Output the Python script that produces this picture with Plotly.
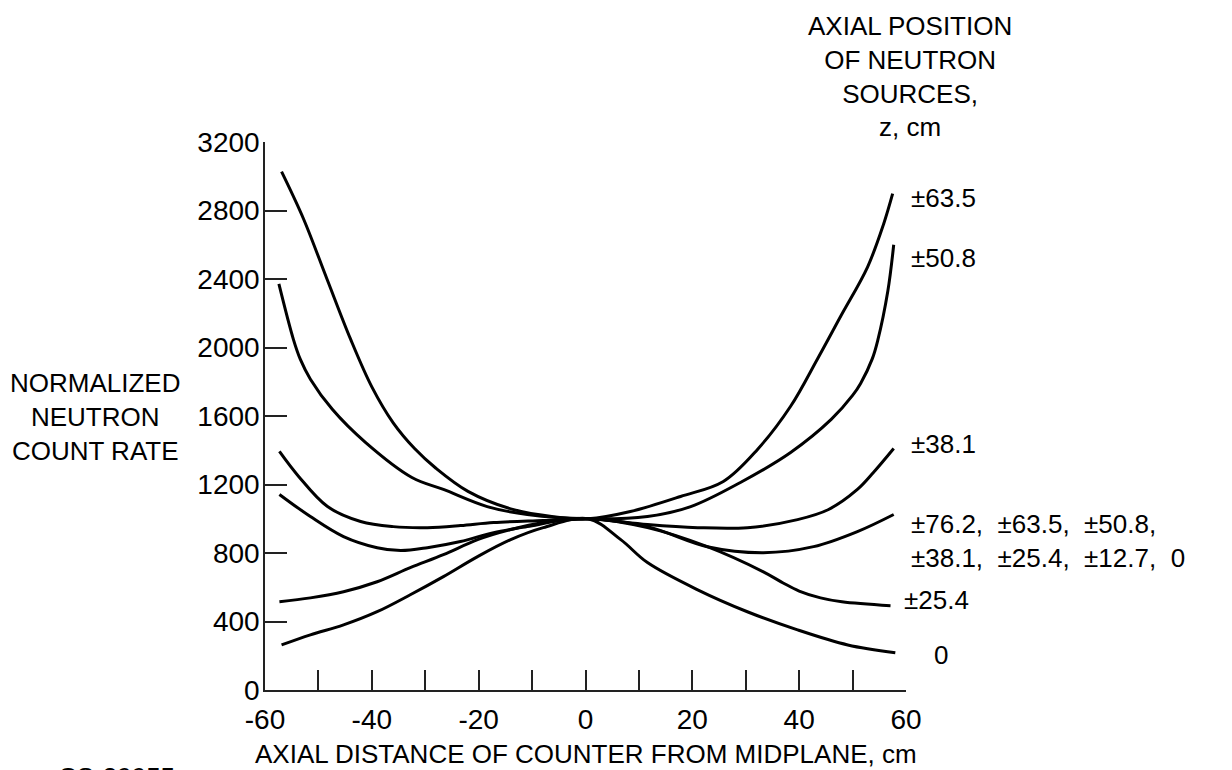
import plotly.graph_objects as go

FONT = "Liberation Sans, Arial, sans-serif"

# Curve data (axial distance cm, normalized count rate)
x_635 = [-56.9, -52.8, -48.4, -44.0, -40.0, -36.0, -32.0, -28.0, -22.0, -14.0, -6.0, 0.5,
         8.4, 17.8, 25.8, 32.2, 38.4, 43.4, 47.8, 52.8, 55.8, 57.5]
y_635 = [3027, 2752, 2400, 2050, 1770, 1560, 1410, 1295, 1160, 1058, 1012, 1000,
         1042, 1130, 1218, 1405, 1657, 1932, 2184, 2470, 2720, 2898]

x_508 = [-57.4, -54.7, -53.4, -51.5, -47.4, -41.2, -32.5, -26.6, -18.4, -10.9, 0.5,
         11.6, 19.7, 29.0, 38.4, 46.0, 50.0, 51.5, 53.7, 54.7, 56.6, 57.7]
y_508 = [2371, 2049, 1932, 1815, 1639, 1446, 1241, 1171, 1071, 1025, 1000,
         1013, 1071, 1212, 1387, 1580, 1720, 1790, 1935, 2040, 2330, 2600]

x_381 = [-57.3, -53.7, -48.3, -42.1, -36.0, -29.6, -23.4, -17.2, -7.9, 0.5,
         11.6, 21.0, 30.3, 39.7, 45.5, 50.9, 53.9, 57.7]
y_381 = [1393, 1247, 1071, 984, 954, 948, 960, 978, 990, 1000,
         966, 948, 948, 995, 1054, 1171, 1270, 1410]

x_all = [-57.3, -51.5, -45.3, -39.0, -34.6, -29.6, -23.4, -17.2, -10.9, -4.7, 0.5,
         11.6, 22.8, 33.3, 42.7, 50.9, 57.7]
y_all = [1142, 1013, 896, 831, 814, 831, 867, 919, 954, 989, 1000,
         954, 837, 802, 837, 925, 1025]

x_254 = [-57.3, -51.5, -45.3, -39.0, -32.8, -26.6, -20.2, -14.0, -7.9, 0.5,
         11.6, 22.8, 33.3, 37.0, 40.0, 44.0, 48.0, 57.1]
y_254 = [515, 538, 574, 632, 714, 790, 878, 937, 978, 1000,
         948, 837, 690, 625, 578, 538, 515, 492]

x_0 = [-56.9, -51.5, -45.3, -39.0, -32.8, -26.6, -20.2, -14.0, -7.9, 0.5,
       6.6, 11.6, 21.0, 30.3, 39.7, 49.1, 58.0]
y_0 = [263, 322, 380, 457, 556, 662, 779, 878, 948, 1000,
       878, 744, 585, 457, 351, 263, 217]

curves = [(x_635, y_635), (x_508, y_508), (x_381, y_381), (x_all, y_all), (x_254, y_254), (x_0, y_0)]

x_ticks = [-60, -50, -40, -30, -20, -10, 0, 10, 20, 30, 40, 50, 60]
x_ticktext = ["-60", "", "-40", "", "-20", "", "0", "", "20", "", "40", "", "60"]
y_ticks = [0, 400, 800, 1200, 1600, 2000, 2400, 2800, 3200]

# curve labels: (paper x, paper y, text)
labels = [
    (1.0045, 0.898, "±63.5"),
    (1.0045, 0.788, "±50.8"),
    (1.0045, 0.448, "±38.1"),
    (1.0045, 0.271, "±76.2,  ±63.5,  ±50.8,<br>±38.1,  ±25.4,  ±12.7,  0"),
    (0.994, 0.164, "±25.4"),
    (1.0406, 0.064, "0"),
]

fig = go.Figure()
for cx, cy in curves:
    fig.add_trace(go.Scatter(x=cx, y=cy, mode="lines",
                             line=dict(color="black", width=3, shape="spline", smoothing=1.0),
                             showlegend=False, hoverinfo="skip"))

for lx, ly, txt in labels:
    fig.add_annotation(x=lx, y=ly, xref="paper", yref="paper", text=txt, showarrow=False,
                       xanchor="left", yanchor="middle", align="left",
                       font=dict(family=FONT, size=26, color="black"))

fig.add_annotation(x=1.006, y=1.120, xref="paper", yref="paper",
                   text="AXIAL POSITION<br>OF NEUTRON<br>SOURCES,<br>z, cm",
                   showarrow=False, xanchor="center", yanchor="middle", align="center",
                   font=dict(family=FONT, size=26, color="black"))

fig.add_annotation(x=-0.265, y=0.498, xref="paper", yref="paper",
                   text="NORMALIZED<br>NEUTRON<br>COUNT RATE",
                   showarrow=False, xanchor="center", yanchor="middle", align="center",
                   font=dict(family=FONT, size=26, color="black"))

fig.add_annotation(x=0.5, y=-0.117, xref="paper", yref="paper",
                   text="AXIAL DISTANCE OF COUNTER FROM MIDPLANE, cm",
                   showarrow=False, xanchor="center", yanchor="middle",
                   font=dict(family=FONT, size=26, color="black"))

fig.add_annotation(x=-0.231, y=-0.128, xref="paper", yref="paper",
                   text="CS-39955", showarrow=False, xanchor="center", yanchor="top",
                   font=dict(family=FONT, size=26, color="black"))

fig.update_xaxes(range=[-60, 60], tickvals=x_ticks, ticktext=x_ticktext,
                 ticks="inside", ticklen=20, tickwidth=1.5, tickcolor="#222",
                 showline=True, linecolor="#222", linewidth=1.5, showgrid=False, zeroline=False,
                 tickfont=dict(family=FONT, size=28, color="black"), ticklabelstandoff=4)
fig.update_yaxes(range=[0, 3200], tickvals=y_ticks,
                 ticks="inside", ticklen=22, tickwidth=1.5, tickcolor="#222",
                 showline=True, linecolor="#222", linewidth=1.5, showgrid=False, zeroline=False,
                 tickfont=dict(family=FONT, size=28, color="black"), ticklabelstandoff=-2)

fig.update_layout(width=1232, height=770, margin=dict(l=265, r=326, t=142, b=80),
                  plot_bgcolor="white", paper_bgcolor="white", showlegend=False)

fig.write_html("out.html")
